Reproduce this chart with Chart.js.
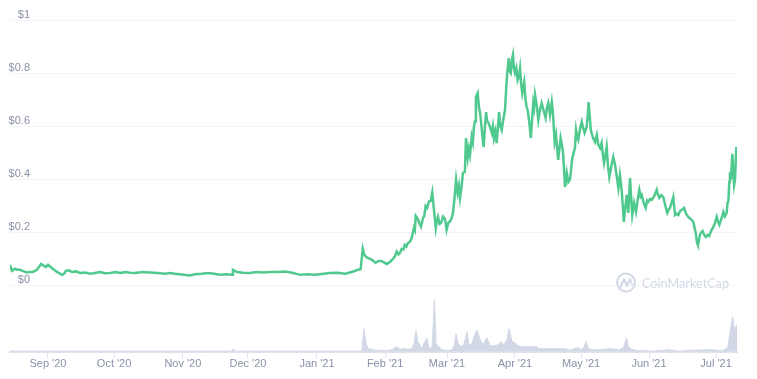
<!DOCTYPE html>
<html><head><meta charset="utf-8">
<style>html,body{margin:0;padding:0;background:#fff}canvas{display:block}</style>
<script src="https://cdn.jsdelivr.net/npm/chart.js@4/dist/chart.umd.min.js"></script>
</head><body><canvas id="c" width="757" height="379"></canvas>
<script>
// days counted from 15 Aug 2020
const tickLabels=["Sep '20","Oct '20","Nov '20","Dec '20","Jan '21","Feb '21","Mar '21","Apr '21","May '21","Jun '21","Jul '21"];
const tickDays=[17.2,47.2,78.4,107.9,139.2,170.1,198.2,229,259,289.8,320.2];
const priceTicks=[0,0.2,0.4,0.6,0.8,1];
const priceDays=[
0,.9,2.3,3.4,4.5,6,7.7,9,10.4,12.2,
14.1,15.4,16.3,17.2,19,21.3,23.6,24.5,25.4,26.6,
28.1,30,31.7,34,36.3,38.5,40.8,43,45.4,48,
49.9,52.2,54.5,56.7,60,63.5,67,70.3,72.5,74.8,
78,81.6,83.9,87,89.8,92.5,95.2,98,100.7,101.1,
102.9,105.8,108.8,112,115,117.9,121,124.7,128,131.5,
135,138.3,141.5,145.1,148.5,151.9,155,157.8,159,
160,160.5,161,162,163.3,164.5,165.8,166.8,167.8,169.3,
170.8,172.2,173.7,174.5,175.4,176.2,176.9,177.6,178.4,179.1,
179.8,180.5,181.4,182.2,183.2,183.6,184,185,185.7,186.4,
187.3,187.9,188.5,189.2,190,190.8,191.5,192.4,193.1,193.6,
194.1,194.8,195.5,196.4,197.3,198,198.8,199.5,200.2,200.9,
201.6,202.3,203,203.6,204.1,204.8,205.4,206.3,206.8,207.6,
208.1,208.6,209.4,209.9,210.4,210.9,211.3,212.1,212.7,213.2,
213.9,214.4,214.8,215.4,215.9,216.4,216.8,217.6,218.5,219,
219.5,220.1,220.7,221.3,221.8,222.4,223,223.8,224.5,225,
225.5,226.2,226.6,227.1,227.6,228.1,228.5,229,229.6,230.2,
230.8,231.3,231.8,232.3,232.8,233.2,233.8,234.3,234.8,235.2,
235.7,236.2,236.8,237.3,237.7,238.1,238.9,239.6,240.3,241.1,
242,242.9,243.5,244.1,244.9,245.7,246.2,247,247.6,248.1,
248.6,249.2,249.7,250.3,250.9,251.3,251.7,252.5,253.2,254,
254.5,255,255.6,256.2,256.7,257.2,257.7,258.5,259.3,260,
260.6,261.5,262,262.4,262.9,263.4,264.3,265.3,266.1,266.8,
267.6,268.3,268.9,269.4,270,270.6,271.2,271.8,272.7,273.6,
274.4,275.2,275.9,276.6,277.4,277.9,278.4,279,279.7,280.4,
280.8,281.2,281.7,282.2,283,283.9,284.6,285.4,286,286.5,
287.4,288.3,288.9,289.5,290.2,291,292.1,293.3,293.9,294.5,
295.4,296.3,297.2,298.1,298.7,299.3,300,300.8,301.6,302.3,
303.1,303.9,304.8,305.7,306.6,307.6,308.7,309.9,310.5,311,
311.6,312,312.9,313.5,314.1,314.8,315.6,316.3,317.1,318,
319,319.7,320.5,321.1,321.7,322.6,323.5,324.2,325,325.4,
325.8,326.2,326.5,327,327.6,328,328.4,328.8,329.4];
const priceValues=[
.077,.054,.062,.058,.058,.053,.048,.05,.05,.058,
.08,.073,.069,.077,.065,.05,.039,.043,.054,.056,
.05,.052,.046,.048,.043,.046,.05,.045,.046,.05,
.046,.05,.047,.046,.05,.048,.046,.043,.046,.043,
.04,.037,.041,.043,.046,.043,.039,.041,.039,.058,
.05,.047,.046,.05,.048,.05,.05,.052,.047,.039,
.041,.039,.042,.046,.047,.043,.05,.058,.06,
.137,.12,.111,.104,.099,.094,.084,.09,.092,.088,
.08,.087,.099,.108,.127,.116,.123,.137,.135,.152,
.146,.16,.164,.179,.216,.208,.262,.25,.232,.221,
.254,.262,.299,.292,.316,.318,.35,.273,.216,.245,
.258,.231,.235,.259,.25,.209,.236,.24,.252,.273,
.33,.398,.349,.375,.33,.372,.424,.428,.556,.484,
.515,.492,.56,.54,.598,.62,.711,.726,.67,.651,
.594,.55,.522,.6,.654,.62,.617,.6,.575,.6,
.556,.58,.537,.6,.654,.6,.586,.63,.662,.74,
.802,.858,.81,.802,.85,.87,.82,.802,.82,.775,
.79,.82,.76,.726,.75,.768,.7,.673,.66,.635,
.6,.556,.63,.688,.67,.719,.68,.624,.66,.688,
.66,.632,.67,.688,.643,.692,.654,.542,.568,.52,
.473,.52,.556,.53,.492,.43,.371,.424,.39,.401,
.44,.481,.5,.518,.586,.56,.549,.59,.617,.59,
.575,.598,.64,.692,.64,.586,.56,.541,.568,.53,
.518,.537,.49,.462,.49,.522,.45,.409,.45,.484,
.454,.41,.367,.416,.36,.3,.239,.29,.341,.273,
.34,.405,.33,.265,.311,.277,.32,.36,.335,.341,
.31,.292,.32,.315,.325,.322,.335,.36,.34,.33,
.34,.333,.3,.273,.285,.292,.31,.333,.265,.27,
.265,.281,.285,.292,.27,.258,.25,.239,.215,.197,
.16,.152,.19,.2,.205,.19,.182,.19,.186,.205,
.22,.235,.258,.24,.228,.25,.277,.26,.273,.31,
.318,.39,.416,.41,.496,.43,.379,.4,.522];
const volumeDays=[0,100,100.4,101.1,102.5,158.7,159.6,160.5,161.5,162.4,165.5,171.4,173.2,174.6,175.5,176.9,178.2,180.5,182.3,183.2,184.1,185,186.8,187.7,189.1,190,191.4,192,192.4,192.9,193.2,194.1,195.9,198.6,200.5,201.4,202.3,203.2,205,205.9,207.3,208.2,209.5,210.4,211.8,213.2,214.5,216.3,217.7,220,221.3,222.7,224,225.4,226.3,227.7,229,230.4,232.6,236.7,239,239.5,242.6,247.2,251.7,254,257.2,259.4,260.3,261.2,262.2,263.5,267.9,272.4,276,278.2,279.6,280.5,281.4,284.5,288.2,291.3,298.6,303,310,318,323,325.5,326.6,327.7,328.7,329.7];
const volumeValues=[.5,.5,1,2.5,.5,.5,1,23,8,3,1.5,1,2,4,5,2,3,2.5,3,8,21,10,3,8,14,3,5,30,52,30,8,6,2,1,2,6,18,8,5,8,20,7,8,15,22,12,7,14,6,6,7,10,7,12,23,10,9,6,5,5,5,3,3,3,3,1.5,4,2,5,10,4,2,2,3,2,4,14,5,3,1,1,.5,2,.5,1.5,2,1,4,20,35,22,27];

const toPoints=(xs,ys)=>xs.map((x,i)=>({x,y:ys[i]}));
const labelColor='#8a91a7';
const mark={id:'mark',afterDraw(ch){
  const c=ch.ctx;c.save();
  c.strokeStyle='#d3d9e7';c.fillStyle='#d3d9e7';c.lineWidth=2;c.lineCap='round';c.lineJoin='round';
  c.beginPath();c.arc(626,282.5,9,-0.15*Math.PI,1.85*Math.PI-0.02);c.stroke();
  c.beginPath();c.moveTo(620,288);c.lineTo(624,279);c.lineTo(627,286);c.lineTo(630,279);c.lineTo(632,284);c.stroke();
  c.font='14px Lato, sans-serif';c.textAlign='left';c.textBaseline='middle';
  c.fillText('CoinMarketCap',642,283,87);
  c.restore();
}};
new Chart(document.getElementById('c'),{
  type:'line',
  plugins:[mark],
  data:{datasets:[
    {data:toPoints(priceDays,priceValues),yAxisID:'y',borderColor:'#4fc98e',borderWidth:2.5,pointRadius:0,tension:0,fill:false,order:1},
    {data:toPoints(volumeDays,volumeValues),yAxisID:'v',borderColor:'#d3d8e6',borderWidth:1,backgroundColor:'#d3d8e6',pointRadius:0,tension:0,fill:'origin',order:2}
  ]},
  options:{
    responsive:false,animation:false,
    layout:{padding:{left:10,right:20,top:20.5,bottom:0}},
    plugins:{legend:{display:false},tooltip:{enabled:false},title:{display:false}},
    scales:{
      x:{type:'linear',min:0,max:329.7,
        afterBuildTicks(s){s.ticks=tickDays.map(v=>({value:v}));},
        afterFit(s){s.height=27.3;s.paddingLeft=0;s.paddingRight=0;},
        grid:{display:true,drawOnChartArea:false,drawTicks:true,tickLength:6,color:'#dfe3ee',lineWidth:1},
        border:{display:true,color:'#dfe3ee',width:2},
        ticks:{autoSkip:false,maxRotation:0,padding:0,color:labelColor,font:{family:'"Liberation Sans", sans-serif',size:11},
          callback(v){return tickLabels[tickDays.indexOf(v)];}}
      },
      y:{position:'left',min:-0.2514,max:1,
        afterBuildTicks(s){s.ticks=priceTicks.map(v=>({value:v}));},
        afterFit(s){s.width=0;s.paddingTop=0;s.paddingBottom=0;s.paddingLeft=0;s.paddingRight=0;s._computeLabelArea=()=>undefined;},
        grid:{drawTicks:false,color:'#f3f4f8',lineWidth:1},
        border:{display:false},
        ticks:{autoSkip:false,padding:-20,labelOffset:-5.5,color:labelColor,font:{family:'"Liberation Sans", sans-serif',size:11},
          callback(v){return '$'+v;}}
      },
      v:{display:false,position:'right',min:0,max:331.5}
    }
  }
});
</script></body></html>
